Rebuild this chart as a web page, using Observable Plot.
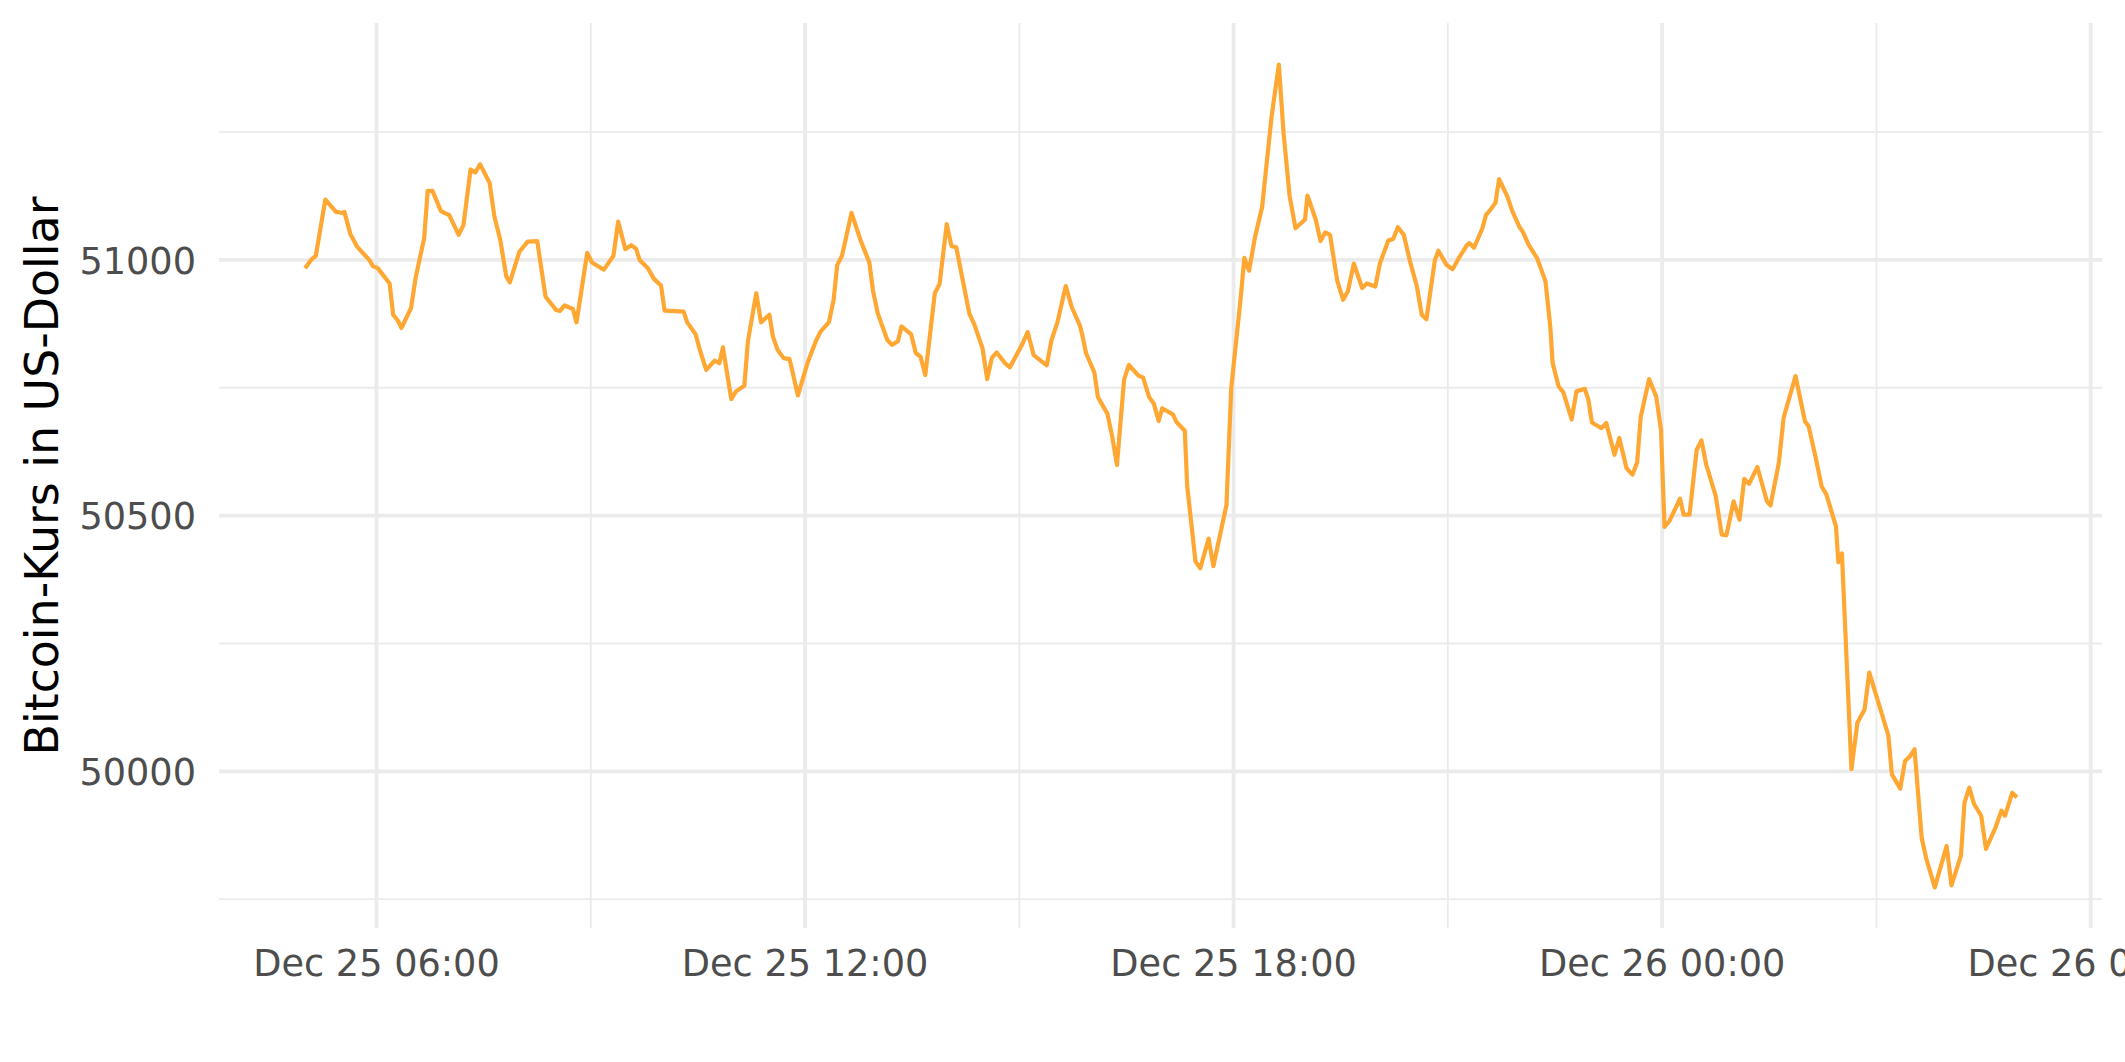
<!DOCTYPE html>
<html>
<head>
<meta charset="utf-8">
<script src="https://cdn.jsdelivr.net/npm/d3@7"></script>
<script src="https://cdn.jsdelivr.net/npm/@observablehq/plot@0.6"></script>
<style>
  html, body { margin: 0; padding: 0; background: #ffffff; overflow: hidden; }
  #chart svg { display: block; }
</style>
</head>
<body>
<div id="chart"></div>
<script>
// ---- Data ----
const yTitle = "Bitcoin-Kurs in US-Dollar";

const dec25Times = [
  "05:00","05:05","05:09","05:17","05:26","05:31","05:33","05:38","05:44","05:54","05:57",
  "06:01","06:11","06:14","06:18","06:21","06:29","06:33","06:40","06:43","06:47","06:54","06:57",
  "07:01","07:09","07:13","07:19","07:23","07:27","07:35","07:39","07:44","07:49","07:52",
  "08:00","08:07","08:15","08:22","08:31","08:34","08:38","08:45","08:48","08:57",
  "09:01","09:11","09:19","09:23","09:29","09:34","09:38","09:41","09:48","09:53","09:59",
  "10:02","10:11","10:18","10:21","10:28","10:32","10:37","10:44","10:48","10:51","10:58",
  "11:02","11:09","11:12","11:19","11:23","11:30","11:33","11:37","11:42","11:47","11:54",
  "12:02","12:09","12:13","12:20","12:24","12:27","12:31","12:39","12:47","12:54","12:57",
  "13:01","13:09","13:13","13:18","13:21","13:29","13:33","13:37","13:41","13:49","13:53","13:59",
  "14:03","14:07","14:13","14:18","14:22","14:29","14:33","14:37","14:41","14:48","14:52",
  "15:02","15:07","15:12","15:23","15:27","15:32","15:39","15:44","15:51","15:53","15:56",
  "16:03","16:06","16:14","16:18","16:22","16:28","16:32","16:40","16:44","16:49","16:53","16:57",
  "17:00","17:09","17:12","17:19","17:21","17:28","17:32","17:39","17:43","17:54","17:58",
  "18:06","18:09","18:13","18:18","18:24","18:27","18:32","18:38","18:42","18:47","18:52",
  "19:00","19:02","19:09","19:13","19:17","19:21","19:27","19:32","19:36","19:41","19:48","19:52","19:59",
  "20:03","20:10","20:14","20:18","20:23","20:28","20:34","20:38","20:42","20:49","20:52","20:59",
  "21:04","21:09","21:16","21:18","21:22","21:29","21:32","21:35","21:40","21:43","21:50","21:54",
  "22:00","22:03","22:08","22:15","22:18","22:22","22:26","22:28","22:33","22:37","22:44","22:48","22:55","22:58",
  "23:01","23:09","23:13","23:20","23:24","23:30","23:35","23:39","23:42","23:49","23:55","23:59"
];
const dec25Prices = [
  50984,51000,51008,51118,51094,51092,51094,51051,51025,51000,50988,
  50984,50954,50893,50881,50867,50906,50967,51042,51135,51135,51096,51092,
  51088,51049,51068,51177,51171,51187,51151,51085,51039,50968,50956,
  51016,51036,51037,50928,50902,50900,50911,50904,50878,51014,
  50995,50981,51008,51075,51021,51029,51022,51000,50984,50963,50950,
  50901,50900,50899,50878,50855,50821,50785,50803,50798,50829,50728,
  50743,50754,50841,50935,50878,50893,50850,50824,50808,50806,50735,
  50798,50841,50860,50878,50922,50990,51008,51092,51036,50995,50941,
  50896,50844,50834,50841,50870,50855,50818,50811,50775,50935,50953,51070,
  51027,51025,50954,50895,50875,50828,50767,50809,50819,50798,50790,
  50833,50859,50814,50794,50843,50878,50949,50908,50871,50852,50818,
  50780,50732,50699,50655,50599,50766,50795,50774,50770,50732,50719,50685,
  50710,50698,50683,50666,50558,50410,50397,50455,50401,50521,50749,
  50927,51004,50979,51045,51104,51172,51282,51382,51247,51126,51062,
  51079,51126,51079,51037,51054,51049,50960,50922,50939,50993,50945,50954,50948,
  50994,51038,51041,51064,51049,50999,50948,50893,50884,50999,51018,50990,
  50982,51003,51029,51033,51024,51062,51088,51096,51112,51158,51124,51096,
  51065,51055,51029,51003,50984,50958,50870,50798,50753,50741,50688,50743,50748,50727,
  50682,50671,50681,50619,50652,50593,50580,50604,50693,50767,50733,50668
];
const dec26Times = [
  "00:02","00:06","00:15","00:18","00:23","00:29","00:33","00:37","00:45","00:50","00:54",
  "01:00","01:05","01:09","01:13","01:20","01:28","01:31","01:38","01:42","01:52",
  "02:00","02:03","02:09","02:14","02:18","02:26","02:28","02:31","02:39","02:44","02:50","02:54",
  "03:03","03:10","03:13","03:20","03:24","03:28","03:32","03:38","03:42","03:49","03:59",
  "04:03","04:11","04:14","04:18","04:22","04:28","04:32","04:40","04:45","04:48","04:54","04:58"
];
const dec26Prices = [
  50478,50489,50533,50502,50502,50629,50647,50600,50538,50463,50462,
  50528,50492,50572,50562,50595,50528,50520,50603,50691,50773,
  50684,50675,50613,50557,50541,50479,50409,50426,50004,50095,50121,50193,
  50124,50070,49994,49966,50020,50029,50043,49870,49828,49773,49854,
  49777,49835,49939,49968,49936,49913,49848,49890,49923,49913,49958,49949
];

const yMajorTicks = [50000, 50500, 51000];
const yMinorTicks = [49750, 50250, 50750, 51250];
const xMajorTickLabels = ["2021-12-25 06:00","2021-12-25 12:00","2021-12-25 18:00","2021-12-26 00:00","2021-12-26 06:00"];
const xMinorTickLabels = ["2021-12-25 09:00","2021-12-25 15:00","2021-12-25 21:00","2021-12-26 03:00"];

// ---- Build table ----
const parse = d3.utcParse("%Y-%m-%d %H:%M");
const data = [
  ...dec25Times.map((t, i) => ({time: parse("2021-12-25 " + t), price: dec25Prices[i]})),
  ...dec26Times.map((t, i) => ({time: parse("2021-12-26 " + t), price: dec26Prices[i]}))
];
const xMajor = xMajorTickLabels.map(parse);
const xMinor = xMinorTickLabels.map(parse);

// ggplot-like 5% expansion of the data range
const [t0, t1] = d3.extent(data, d => d.time);
const tPad = (t1 - t0) * 0.05;
const [p0, p1] = d3.extent(data, d => d.price);
const pPad = (p1 - p0) * 0.05;

const gridColor = "#EBEBEB";
const tickColor = "#4D4D4D";

const chart = Plot.plot({
  width: 2125,
  height: 1062,
  marginLeft: 219,
  marginRight: 23,
  marginTop: 23,
  marginBottom: 134,
  style: {fontFamily: "'DejaVu Sans', sans-serif", background: "#ffffff", overflow: "hidden"},
  x: {type: "utc", domain: [new Date(+t0 - tPad), new Date(+t1 + tPad)]},
  y: {domain: [p0 - pPad, p1 + pPad]},
  marks: [
    Plot.gridY(yMinorTicks, {stroke: gridColor, strokeOpacity: 1, strokeWidth: 1.9}),
    Plot.gridX(xMinor, {stroke: gridColor, strokeOpacity: 1, strokeWidth: 1.9}),
    Plot.gridY(yMajorTicks, {stroke: gridColor, strokeOpacity: 1, strokeWidth: 3.8}),
    Plot.gridX(xMajor, {stroke: gridColor, strokeOpacity: 1, strokeWidth: 3.8}),
    Plot.lineY(data, {x: "time", y: "price", stroke: "#FFA733", strokeWidth: 4.2, strokeLinejoin: "round", strokeLinecap: "butt"}),
    Plot.axisY(yMajorTicks, {
      tickSize: 0, tickPadding: 23.5, fontSize: 36.67, fill: tickColor, dy: 2,
      label: null, tickFormat: d => String(d)
    }),
    Plot.axisX(xMajor, {
      tickSize: 0, tickPadding: 21, fontSize: 36.67, fill: tickColor,
      label: null, tickFormat: d3.utcFormat("%b %d %H:%M")
    }),
    Plot.text([yTitle], {
      text: d => d, frameAnchor: "left", rotate: -90, dx: -194.5,
      lineAnchor: "top", textAnchor: "middle", fontSize: 45.83, fill: "#000000"
    })
  ]
});
document.getElementById("chart").appendChild(chart);
</script>
</body>
</html>
